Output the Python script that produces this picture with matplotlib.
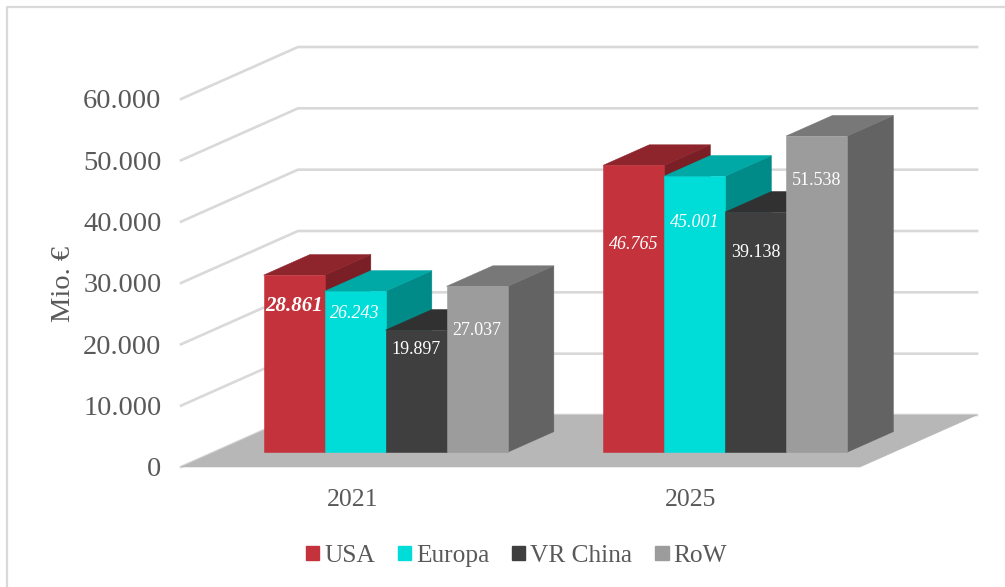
import matplotlib
matplotlib.use("Agg")
import matplotlib.pyplot as plt
from matplotlib.lines import Line2D
from matplotlib.patches import Patch, Polygon

plt.rcParams['font.family'] = ['Liberation Serif', 'DejaVu Serif']

YEARS = ["2021", "2025"]
SERIES = ["USA", "Europa", "VR China", "RoW"]
USA = [28861, 46765]
EUROPA = [26243, 45001]
VR_CHINA = [19897, 39138]
ROW = [27037, 51538]
VALUES = [USA, EUROPA, VR_CHINA, ROW]
Y_TICKS = [0, 10000, 20000, 30000, 40000, 50000, 60000]
Y_LABELS = ["0", "10.000", "20.000", "30.000", "40.000", "50.000", "60.000"]

# how far up each bar the label sits
LABEL_FRAC = [[0.826, 0.725], [0.863, 0.833], [0.84, 0.83], [0.735, 0.86]]

FRONT = ["#C4323C", "#00DDD9", "#3F3F3F", "#9C9C9C"]
TOP = ["#8E252C", "#00A9A5", "#313131", "#787878"]
SIDE = ["#7A1F25", "#008B88", "#2B2B2B", "#636363"]
TXT = "#595959"
GRID = "#D9D9D9"

W, H = 1005, 587
# depth axis: full depth moves this far in data units
DEPTH_X = 117 / 339.5
DEPTH_Y = 52 / 368 * 60000
D0, D1 = 0.285, 0.68
BAR_W = 61 / 339.5
BAR_SHIFT = 1.5 / 339.5


def proj(x, y, d):
    return (x + DEPTH_X * d, y + DEPTH_Y * d)


def face(ax, pts, color, z):
    ax.add_patch(Polygon(pts, closed=True, fc=color, ec=color, lw=0.4, zorder=z, clip_on=False))


def main():
    fig = plt.figure(figsize=(W / 100, H / 100), dpi=100)
    # only the left and top edge of the frame are in the picture
    fig.add_artist(Line2D([6.5 / W, 6.5 / W, 1], [0, 1 - 6.5 / H, 1 - 6.5 / H], color=GRID, lw=1.6))
    ax = fig.add_axes([181 / W, 1 - 467 / H, 679 / W, 368 / H])
    ax.set_xlim(0, 2)
    ax.set_ylim(0, 60000)
    ax.patch.set_visible(False)
    for s in ax.spines.values():
        s.set_visible(False)

    # floor
    face(ax, [proj(0, 0, 0), proj(2, 0, 0), proj(2, 0, 1), proj(0, 0, 1)], "#B7B7B7", 2)

    # gridlines: side wall then back wall
    for t in Y_TICKS:
        pts = [proj(0, t, 0), proj(0, t, 1), proj(2, t, 1)]
        ax.plot([p[0] for p in pts], [p[1] for p in pts], color=GRID, lw=1.9, zorder=1,
                clip_on=False, solid_joinstyle="miter")

    # bars, left to right so the next one hides the side face
    for g in range(len(YEARS)):
        for i in range(len(SERIES)):
            v = VALUES[i][g]
            x0 = g + 0.5 + BAR_SHIFT + (i - 2) * BAR_W
            x1 = x0 + BAR_W
            z = 3 + g * 10 + i
            face(ax, [proj(x1, 0, D0), proj(x1, 0, D1), proj(x1, v, D1), proj(x1, v, D0)], SIDE[i], z)
            face(ax, [proj(x0, v, D0), proj(x1, v, D0), proj(x1, v, D1), proj(x0, v, D1)], TOP[i], z)
            face(ax, [proj(x0, 0, D0), proj(x1, 0, D0), proj(x1, v, D0), proj(x0, v, D0)], FRONT[i], z)

            lx, ly = proj((x0 + x1) / 2, v * LABEL_FRAC[i][g], D0)
            style = "italic" if i < 2 else "normal"
            bold = i == 0 and g == 0
            ax.text(lx, ly, f"{v:,}".replace(",", "."), color="white", fontsize=15 if bold else 13,
                    style=style, weight="bold" if bold else "normal", ha="center", va="center", zorder=50)

    ax.set_yticks(Y_TICKS, Y_LABELS)
    ax.set_xticks([0.505, 1.5], YEARS)
    ax.tick_params(axis="both", length=0, colors=TXT)
    ax.tick_params(axis="y", labelsize=20.5, pad=14)
    ax.tick_params(axis="x", labelsize=18.5, pad=15.5)
    fig.text(63 / W, 1 - 284 / H, "Mio. €", rotation=90, color=TXT, fontsize=20.5, ha="center", va="center")

    handles = [Patch(fc=c, ec=c, label=s) for c, s in zip(FRONT, SERIES)]
    fig.legend(handles=handles, loc="center", bbox_to_anchor=(516.5 / W, 1 - 556 / H), ncol=4, frameon=False,
               fontsize=18.3, labelcolor=TXT, handlelength=0.52, handleheight=0.52, handletextpad=0.2,
               columnspacing=0.9)

    fig.savefig("out.png", dpi=100)


if __name__ == "__main__":
    main()
